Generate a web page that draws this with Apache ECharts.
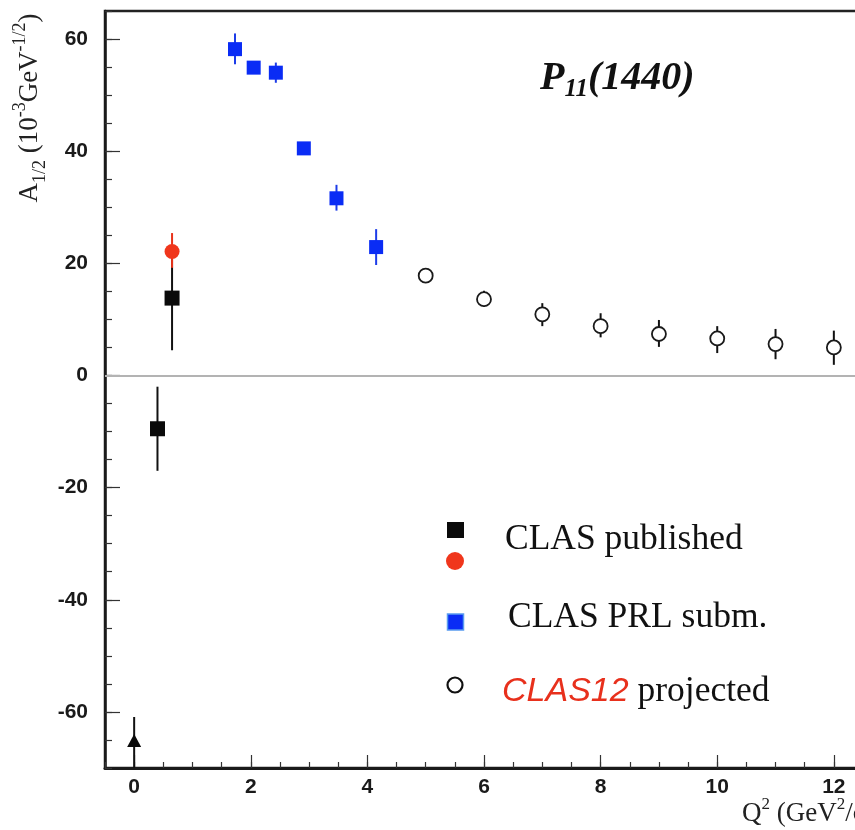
<!DOCTYPE html>
<html><head><meta charset="utf-8">
<script src="https://cdn.jsdelivr.net/npm/echarts@6/dist/echarts.min.js"></script>
<style>html,body{margin:0;padding:0;background:#fff}#c{width:855px;height:830px}</style>
</head><body><div id="c"></div>
<script>
// tick values
const xTicksMajor = [0, 2, 4, 6, 8, 10, 12];
const yTicksMajor = [-60, -40, -20, 0, 20, 40, 60];
// data rows: [Q2, A1/2, lowerErr, upperErr]
const clasPublishedSquares = [[0.4, -9.5, -17.0, -2.0], [0.65, 13.8, 4.5, 23.1]];
const clasPublishedCircle = [[0.65, 22.1, 19.2, 25.4]];
const clasPublishedTriangle = [[0.0, -65.1, -70.0, -60.9]];
const clasPrl = [[1.73, 58.2, 55.5, 61.0], [2.05, 54.9, 53.9, 55.9], [2.43, 54.0, 52.2, 55.8],
                 [2.91, 40.5, 39.5, 41.5], [3.47, 31.6, 29.4, 34.0], [4.15, 22.9, 19.7, 26.1]];
const clas12Projected = [[5, 17.8, 16.8, 18.8], [6, 13.6, 12.2, 15.1], [7, 10.9, 8.8, 12.9], [8, 8.8, 6.8, 11.1],
                         [9, 7.4, 5.1, 9.9], [10, 6.6, 4.0, 8.8], [11, 5.6, 2.9, 8.3], [12, 5.0, 1.9, 8.0]];

const chart = echarts.init(document.getElementById('c'), null, {renderer: 'canvas'});

function errSeries(data, color, width, z) {
  return {
    type: 'custom', z: z, silent: true,
    data: data.map(d => [d[0], d[2], d[3]]),
    encode: {x: 0, y: [1, 2]},
    renderItem: (params, api) => {
      const p1 = api.coord([api.value(0), api.value(1)]);
      const p2 = api.coord([api.value(0), api.value(2)]);
      return {type: 'line', shape: {x1: p1[0], y1: p1[1], x2: p2[0], y2: p2[1]},
              style: {stroke: color, lineWidth: width}};
    }
  };
}
function pts(data) { return data.map(d => [d[0], d[1]]); }

const serif = "'Liberation Serif', 'Times New Roman', serif";
const sans = "'Liberation Sans', Arial, sans-serif";
const tickLabel = {fontFamily: sans, fontWeight: 'bold', fontSize: 21, color: '#1a1a1a'};

const option = {
  animation: false,
  backgroundColor: '#fff',
  grid: {left: 105, top: 11, width: 758, height: 757, show: true, borderColor: '#222', borderWidth: 2.5,
         containLabel: false, outerBoundsMode: 'none'},
  xAxis: [
    {type: 'value', min: -0.5, max: 12.5, interval: 0.5, position: 'bottom',
     axisLine: {show: true, onZero: false, lineStyle: {color: '#1a1a1a', width: 3}},
     axisTick: {show: true, inside: true, length: 6, lineStyle: {color: '#333', width: 1.2}},
     axisLabel: Object.assign({margin: 9, formatter: v => (Math.abs(v % 2) < 1e-9 ? String(v) : '')}, tickLabel),
     splitLine: {show: false}},
    {type: 'value', min: -0.5, max: 12.5, position: 'bottom',
     axisLine: {show: false, onZero: false},
     axisTick: {show: true, inside: true, length: 13, customValues: xTicksMajor, lineStyle: {color: '#333', width: 1.2}},
     axisLabel: {show: false}, splitLine: {show: false}}
  ],
  yAxis: [
    {type: 'value', min: -70, max: 65, interval: 5, position: 'left',
     axisLine: {show: true, onZero: false, lineStyle: {color: '#1a1a1a', width: 2.5}},
     axisTick: {show: true, inside: true, length: 7, lineStyle: {color: '#333', width: 1.2}},
     axisLabel: Object.assign({margin: 17, formatter: v => (Math.abs(v % 20) < 1e-9 ? String(v) : '')}, tickLabel),
     splitLine: {show: false}},
    {type: 'value', min: -70, max: 65, position: 'left',
     axisLine: {show: false, onZero: false},
     axisTick: {show: true, inside: true, length: 15, customValues: yTicksMajor, lineStyle: {color: '#333', width: 1.2}},
     axisLabel: {show: false}, splitLine: {show: false}}
  ],
  series: [
    {type: 'scatter', data: [], z: 1, silent: true,
     markLine: {silent: true, symbol: 'none', label: {show: false}, animation: false,
                lineStyle: {color: '#b3b3b3', width: 2, type: 'solid'}, data: [{yAxis: 0}]}},
    errSeries(clasPublishedSquares, '#111', 2, 3),
    errSeries(clasPublishedTriangle, '#111', 2, 3),
    errSeries(clasPublishedCircle, '#e8321a', 2, 4),
    errSeries(clasPrl, '#1d3ce8', 2, 3),
    errSeries(clas12Projected, '#111', 2, 3),
    {name: 'CLAS published', type: 'scatter', z: 5, data: pts(clasPublishedSquares), symbol: 'rect', symbolSize: 15,
     itemStyle: {color: '#0a0a0a', opacity: 1}},
    {name: 'CLAS published', type: 'scatter', z: 6, data: pts(clasPublishedCircle), symbol: 'circle', symbolSize: 15,
     itemStyle: {color: '#f0361c', opacity: 1}},
    {name: 'CLAS published', type: 'scatter', z: 5, data: pts(clasPublishedTriangle), symbol: 'triangle', symbolSize: [14, 13],
     itemStyle: {color: '#0a0a0a', opacity: 1}},
    {name: 'CLAS PRL subm.', type: 'scatter', z: 5, data: pts(clasPrl), symbol: 'rect', symbolSize: 14,
     itemStyle: {color: '#0a2cf5', opacity: 1}},
    {name: 'CLAS12 projected', type: 'scatter', z: 5, data: pts(clas12Projected), symbol: 'circle', symbolSize: 14,
     itemStyle: {color: '#fff', borderColor: '#1a1a1a', borderWidth: 1.8, opacity: 1}}
  ],
  graphic: [
    // title
    {type: 'text', left: 540, top: 59, z: 20, style: {
      text: '{p|P}{s|11}{p|(1440)}',
      rich: {
        p: {fontFamily: serif, fontStyle: 'italic', fontWeight: 'bold', fontSize: 40, fill: '#111', lineHeight: 46, verticalAlign: 'middle'},
        s: {fontFamily: serif, fontStyle: 'italic', fontWeight: 'bold', fontSize: 25, fill: '#111', lineHeight: 29, verticalAlign: 'bottom'}
      }}},
    // y axis name
    {type: 'text', x: 30, y: 108, rotation: Math.PI / 2, z: 20, style: {
      text: '{m|A}{sb|1/2}{m| (10}{sp|-3}{m|GeV}{sp|-1/2}{m|)}',
      align: 'center', verticalAlign: 'middle',
      rich: {
        m: {fontFamily: serif, fontSize: 27, fill: '#222', lineHeight: 38, verticalAlign: 'middle'},
        sb: {fontFamily: serif, fontSize: 18, fill: '#222', lineHeight: 23, verticalAlign: 'bottom'},
        sp: {fontFamily: serif, fontSize: 18, fill: '#222', lineHeight: 23, verticalAlign: 'top'}
      }}},
    // x axis name
    {type: 'text', x: 742, y: 814, z: 20, style: {
      text: '{m|Q}{sp|2}{m| (GeV}{sp|2}{m|/c}{sp|2}{m|)}',
      align: 'left', verticalAlign: 'middle',
      rich: {
        m: {fontFamily: serif, fontSize: 27, fill: '#222', lineHeight: 36, verticalAlign: 'middle'},
        sp: {fontFamily: serif, fontSize: 17, fill: '#222', lineHeight: 22, verticalAlign: 'top'}
      }}},
    // legend keys
    {type: 'rect', z: 20, shape: {x: 447, y: 522, width: 17, height: 16}, style: {fill: '#0a0a0a'}},
    {type: 'circle', z: 20, shape: {cx: 455, cy: 561, r: 9}, style: {fill: '#f0361c'}},
    {type: 'rect', z: 20, shape: {x: 447.5, y: 614, width: 16, height: 16}, style: {fill: '#0a2cf5', stroke: '#5a9cf0', lineWidth: 1.5}},
    {type: 'circle', z: 20, shape: {cx: 455, cy: 685, r: 7.5}, style: {fill: '#fff', stroke: '#111', lineWidth: 2.2}},
    // legend texts
    {type: 'text', x: 505, y: 540, z: 20, style: {text: 'CLAS published', font: "35.5px " + serif, fill: '#111', align: 'left', verticalAlign: 'middle'}},
    {type: 'text', x: 508, y: 618, z: 20, style: {text: 'CLAS PRL subm.', font: "35.5px " + serif, fill: '#111', align: 'left', verticalAlign: 'middle'}},
    {type: 'text', x: 502, y: 692, z: 20, style: {
      text: '{a|CLAS12}{b| projected}', align: 'left', verticalAlign: 'middle',
      rich: {
        a: {fontFamily: sans, fontStyle: 'italic', fontSize: 34, fill: '#e8301c'},
        b: {fontFamily: serif, fontSize: 35.5, fill: '#111'}
      }}}
  ]
};
chart.setOption(option);
</script>
</body></html>
